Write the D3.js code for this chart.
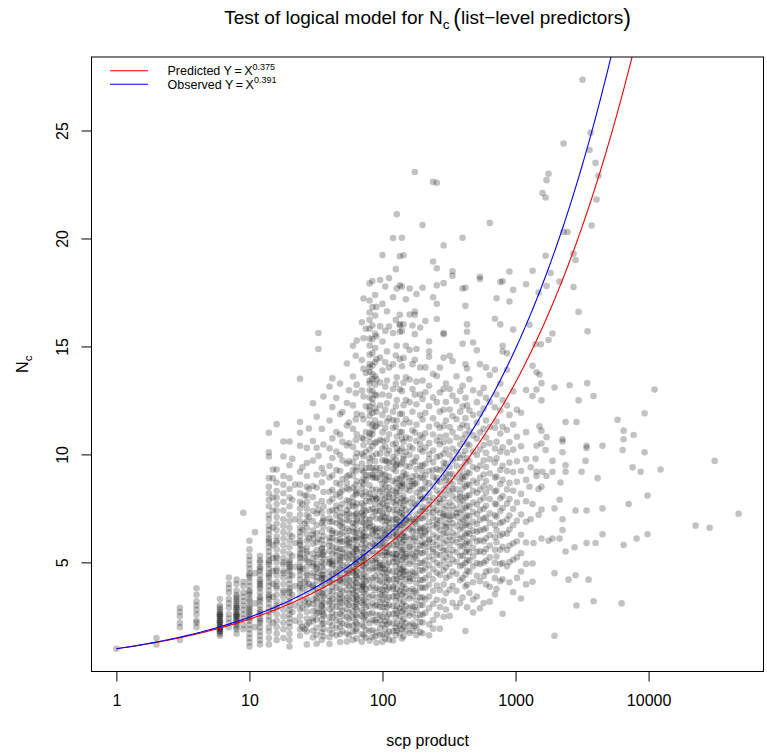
<!DOCTYPE html>
<html>
<head>
<meta charset="utf-8">
<script src="https://cdn.jsdelivr.net/npm/d3@7"></script>
<style>
  body { margin: 0; background: #fff; }
  svg text { font-family: "Liberation Sans", Arial, Helvetica, sans-serif; fill: #000; }
</style>
</head>
<body>
<svg id="chart" width="767" height="756"></svg>
<script>
// scp product values observed as columns, with the N_c values seen at each
const scpProduct = [
  1, 2, 3, 4, 6, 7, 8, 9, 10, 11, 12, 14, 15, 16, 18, 20, 21, 22, 24, 25, 26, 27, 28,
  30, 32, 33, 35, 36, 40, 42, 45, 48, 50, 54, 56, 60, 63, 64, 70, 72, 75, 80, 84, 88, 90, 96,
  100, 105, 108, 112, 120, 126, 128, 135, 140, 144, 150, 160, 168, 175, 180, 192, 200, 210,
  224, 240, 256, 270, 288, 300, 320, 336, 360, 384, 400, 420, 432, 450, 480, 512, 540, 576,
  600, 640, 700, 720, 768, 800, 864, 900, 960, 1024, 1100, 1200
];
const ncAtProduct = [
  [1.0],
  [1.5, 1.2],
  [2.9, 2.7, 2.5, 2.2, 2.0, 1.4],
  [3.8, 3.5, 3.2, 3.0, 2.8, 2.6, 2.3, 2.2, 2.0],
  [3.3, 3.0, 2.9, 2.8, 2.7, 2.6, 2.6, 2.5, 2.5, 2.4, 2.3, 2.3, 2.2, 2.2, 2.1, 2.0, 2.0, 1.9, 1.9, 1.8, 1.8, 1.7, 1.6],
  [4.3, 4.0, 3.8, 3.6, 3.3, 3.1, 2.9, 2.6, 2.4, 2.2, 2.0],
  [4.2, 4.0, 3.7, 3.5, 3.4, 3.3, 3.2, 3.1, 3.0, 2.9, 2.9, 2.8, 2.7, 2.6, 2.6, 2.5, 2.5, 2.4, 2.3, 2.3, 2.2, 2.1, 2.0, 1.9, 1.7],
  [7.3, 4.1, 3.9, 3.6, 3.4, 3.2, 3.0, 2.8, 2.6, 2.4, 2.1, 1.9],
  [6.0, 5.6, 5.3, 5.1, 4.9, 4.7, 4.5, 4.4, 4.3, 4.1, 3.9, 3.7, 3.6, 3.5, 3.3, 3.2, 3.0, 2.9, 2.8, 2.7, 2.6, 2.5, 2.4, 2.3, 2.1, 1.9, 1.7, 1.5, 1.3, 1.1],
  [6.4, 4.5, 3.1, 2.0],
  [5.3, 5.1, 5.0, 4.8, 4.7, 4.6, 4.4, 4.2, 4.1, 4.0, 3.9, 3.8, 3.6, 3.4, 3.3, 3.2, 3.0, 2.8, 2.7, 2.6, 2.4, 2.3, 2.2, 2.0, 1.8, 1.6, 1.4, 1.2],
  [11.0, 10.1, 9.9, 8.9, 8.5, 8.2, 7.9, 7.6, 7.2, 7.0, 6.7, 6.5, 6.3, 6.1, 6.0, 5.9, 5.7, 5.5, 5.3, 5.1, 5.0, 4.9, 4.7, 4.5, 4.4, 4.3, 4.1, 3.9, 3.7, 3.5, 3.4, 3.3, 3.1, 2.9, 2.7, 2.5, 2.3, 2.0, 1.8, 1.5, 1.2],
  [9.3, 8.9, 8.0, 7.4, 6.6, 5.8, 5.2, 4.6, 4.0, 3.4, 2.8, 2.2],
  [11.4, 9.3, 8.7, 8.3, 8.0, 7.7, 7.4, 7.1, 6.8, 6.5, 6.2, 6.0, 5.9, 5.6, 5.3, 5.2, 5.0, 4.7, 4.6, 4.4, 4.1, 3.9, 3.8, 3.5, 3.2, 3.0, 2.9, 2.6, 2.3, 2.0, 1.7, 1.4],
  [10.6, 9.9, 9.0, 8.6, 8.2, 7.8, 7.4, 7.0, 6.7, 6.4, 6.1, 5.8, 5.5, 5.2, 5.0, 4.9, 4.6, 4.5, 4.3, 4.0, 3.7, 3.6, 3.4, 3.1, 2.8, 2.5, 2.2, 1.9, 1.5],
  [10.6, 9.5, 8.9, 8.4, 8.0, 7.6, 7.2, 6.9, 6.6, 6.3, 6.0, 5.7, 5.4, 5.1, 5.0, 4.9, 4.8, 4.7, 4.6, 4.4, 4.2, 4.0, 3.8, 3.7, 3.6, 3.4, 3.2, 3.0, 2.8, 2.6, 2.4, 2.2, 2.0, 1.7, 1.4, 1.1],
  [9.8, 7.9, 6.2, 5.3, 4.4, 3.5, 2.7],
  [8.6, 7.0, 5.9, 4.8, 3.9, 3.0, 2.3],
  [13.5, 11.5, 11.0, 10.4, 9.2, 8.6, 8.2, 7.8, 7.5, 7.2, 6.9, 6.6, 6.4, 6.2, 6.0, 5.9, 5.8, 5.6, 5.4, 5.3, 5.2, 5.0, 4.8, 4.7, 4.6, 4.4, 4.2, 4.0, 3.9, 3.7, 3.4, 3.1, 2.8, 2.5, 2.2, 1.9, 1.6],
  [9.4, 7.7, 6.5, 5.6, 4.7, 3.8, 2.9, 2.0],
  [8.1, 6.8, 5.2, 4.1, 3.2, 1.9],
  [10.3, 9.6, 9.0, 8.5, 8.1, 7.8, 7.5, 7.2, 6.9, 6.6, 6.3, 6.0, 5.7, 5.5, 5.4, 5.1, 4.8, 4.5, 4.4, 4.2, 3.9, 3.6, 3.3, 3.0, 2.7, 2.4, 2.1, 1.8, 1.2],
  [11.2, 8.4, 7.1, 6.1, 5.0, 4.0, 3.1, 2.2],
  [12.37, 10.62, 9.71, 8.54, 8.02, 7.38, 6.91, 6.47, 6.13, 5.86, 5.41, 5.18, 4.83, 4.52, 4.37, 3.96, 3.72, 3.28, 3.07, 2.74, 2.41, 2.26, 1.83, 1.52, 6.28, 4.96, 3.88],
  [11.74, 10.31, 9.06, 8.47, 7.69, 7.26, 6.72, 6.35, 5.92, 5.57, 5.24, 4.93, 4.68, 4.31, 4.14, 3.81, 3.46, 3.17, 2.88, 2.63, 2.35, 1.97, 1.64, 1.23, 4.77, 3.34],
  [15.62, 14.88, 9.93, 7.43, 6.07, 5.36, 4.52, 3.61, 2.68],
  [11.18, 9.37, 8.71, 7.84, 7.31, 6.84, 6.42, 6.03, 5.66, 5.37, 5.03, 4.79, 4.44, 4.21, 3.93, 3.58, 3.24, 2.97, 2.72, 2.36, 2.13, 1.77, 1.41, 5.62, 4.27, 3.02],
  [12.68, 10.46, 9.12, 8.26, 7.58, 7.04, 6.66, 6.21, 5.83, 5.48, 5.17, 4.91, 4.63, 4.27, 4.02, 3.74, 3.42, 3.13, 2.84, 2.52, 2.18, 1.92, 1.58, 6.93, 5.34, 4.43, 3.51, 2.61],
  [13.14, 11.57, 10.28, 9.46, 8.93, 8.27, 7.82, 7.36, 6.87, 6.53, 6.14, 5.77, 5.52, 5.16, 4.94, 4.58, 4.33, 4.06, 3.68, 3.42, 3.09, 2.83, 2.47, 2.21, 1.86, 1.53, 1.22, 7.04, 5.98, 5.03, 4.12, 3.21],
  [13.52, 12.19, 10.74, 9.83, 9.02, 8.36, 7.94, 7.41, 6.88, 6.46, 6.12, 5.73, 5.41, 5.08, 4.84, 4.47, 4.23, 3.87, 3.64, 3.31, 2.96, 2.68, 2.43, 2.07, 1.72, 6.34, 4.91],
  [12.61, 11.04, 10.13, 9.27, 8.68, 8.14, 7.63, 7.17, 6.82, 6.37, 6.02, 5.68, 5.33, 5.04, 4.71, 4.43, 4.07, 3.82, 3.47, 3.18, 2.93, 2.57, 2.31, 1.96, 1.62, 7.42, 5.51, 4.52],
  [13.28, 11.86, 10.92, 9.97, 9.23, 8.61, 8.04, 7.53, 7.12, 6.68, 6.31, 5.94, 5.63, 5.27, 4.98, 4.72, 4.38, 4.13, 3.77, 3.52, 3.16, 2.91, 2.62, 2.27, 2.03, 1.68, 1.31, 8.24, 6.93, 6.07, 5.12, 4.18, 3.33],
  [11.96, 10.58, 9.72, 8.86, 8.33, 7.71, 7.27, 6.84, 6.38, 5.97, 5.61, 5.23, 4.87, 4.63, 4.27, 4.04, 3.66, 3.38, 3.12, 2.77, 2.52, 2.17, 1.81, 6.62, 5.42],
  [14.21, 12.38, 11.34, 10.41, 9.58, 8.97, 8.43, 7.88, 7.42, 6.98, 6.57, 6.24, 5.82, 5.46, 5.21, 4.88, 4.62, 4.27, 4.01, 3.73, 3.36, 3.12, 2.84, 2.46, 2.11, 1.72, 1.33, 8.68, 7.21, 6.02, 4.47],
  [12.97, 11.48, 10.53, 9.68, 9.04, 8.37, 7.83, 7.26, 6.93, 6.46, 6.08, 5.74, 5.37, 5.13, 4.78, 4.51, 4.17, 3.92, 3.57, 3.28, 3.03, 2.66, 2.38, 2.04, 1.63, 7.57, 5.92],
  [15.03, 13.61, 12.27, 11.18, 10.34, 9.62, 9.01, 8.47, 8.03, 7.61, 7.17, 6.82, 6.41, 6.04, 5.72, 5.38, 5.13, 4.76, 4.52, 4.18, 3.93, 3.57, 3.32, 2.98, 2.71, 2.43, 2.08, 1.79, 1.41, 9.28, 7.78, 6.63, 5.47, 4.61, 3.73],
  [14.57, 12.83, 11.62, 10.66, 9.87, 9.23, 8.58, 8.14, 7.57, 7.23, 6.77, 6.38, 6.02, 5.63, 5.28, 5.02, 4.68, 4.42, 4.08, 3.83, 3.48, 3.17, 2.92, 2.57, 2.23, 1.82, 8.32, 6.18, 4.93],
  [15.27, 13.23, 11.88, 10.93, 10.07, 9.43, 8.77, 8.22, 7.73, 7.28, 6.92, 6.48, 6.13, 5.78, 5.51, 5.17, 4.92, 4.57, 4.28, 4.03, 3.67, 3.41, 3.08, 2.82, 2.48, 2.17, 1.93, 1.48, 7.02, 5.61, 4.37, 3.28],
  [16.12, 14.37, 12.96, 11.82, 10.77, 10.03, 9.28, 8.72, 8.17, 7.73, 7.31, 6.87, 6.52, 6.08, 5.83, 5.47, 5.22, 4.87, 4.62, 4.31, 3.97, 3.72, 3.38, 3.13, 2.77, 2.52, 2.12, 1.68, 1.32, 9.58, 8.43, 7.13, 6.27, 5.02, 3.88],
  [17.22, 15.38, 13.97, 12.68, 11.63, 10.72, 9.92, 9.18, 8.62, 8.07, 7.62, 7.18, 6.83, 6.37, 6.02, 5.68, 5.43, 5.08, 4.83, 4.47, 4.23, 3.88, 3.62, 3.27, 3.03, 2.68, 2.42, 2.03, 1.62, 10.43, 8.88, 7.42, 6.18, 5.23, 3.98],
  [15.82, 13.77, 12.23, 11.04, 10.12, 9.37, 8.82, 8.27, 7.83, 7.37, 7.02, 6.57, 6.23, 5.88, 5.62, 5.27, 4.97, 4.73, 4.37, 4.12, 3.77, 3.52, 3.18, 2.92, 2.57, 2.32, 1.88, 1.52, 9.03, 6.72],
  [17.92, 17.13, 16.57, 16.23, 15.82, 15.37, 15.04, 14.62, 14.18, 13.83, 13.42, 12.97, 12.63, 12.22, 11.78, 11.43, 10.98, 10.57, 10.23, 9.82, 9.37, 9.03, 8.57, 8.18, 7.82, 7.43, 6.97, 6.63, 6.18, 5.77, 5.43, 4.98, 4.63, 4.17, 3.83, 3.38, 2.97, 2.62, 2.18, 1.82, 1.37, 14.03, 13.28, 12.04, 10.83, 9.63, 8.02, 6.83],
  [18.03, 16.82, 15.97, 15.33, 14.68, 14.12, 13.48, 12.93, 12.37, 11.92, 11.37, 10.93, 10.38, 9.92, 9.37, 8.93, 8.37, 7.93, 7.48, 7.12, 6.68, 6.32, 5.87, 5.53, 5.07, 4.72, 4.27, 3.93, 3.47, 3.12, 2.67, 2.33, 1.87, 1.53, 13.72, 12.58, 11.12, 9.07, 6.47],
  [17.38, 16.43, 15.58, 14.93, 14.27, 13.62, 12.77, 12.13, 11.28, 10.52, 9.68, 8.93, 8.07, 7.33, 6.52, 5.78, 5.12, 4.37, 3.72, 2.97, 2.32, 1.58, 13.23, 11.57, 9.23, 7.68, 6.03, 4.78],
  [16.83, 15.47, 14.42, 13.48, 12.73, 11.97, 11.33, 10.58, 10.03, 9.38, 8.92, 8.37, 7.93, 7.38, 7.03, 6.57, 6.23, 5.77, 5.42, 4.97, 4.63, 4.17, 3.83, 3.37, 3.03, 2.57, 2.23, 1.77, 1.28, 7.97, 6.42, 5.18],
  [18.08, 15.93, 14.48, 13.33, 12.27, 11.42, 10.68, 10.03, 9.37, 8.83, 8.28, 7.82, 7.38, 7.03, 6.57, 6.22, 5.78, 5.43, 4.98, 4.73, 4.38, 4.13, 3.77, 3.52, 3.17, 2.93, 2.57, 2.32, 1.97, 1.63, 9.12, 7.58, 6.03, 4.87],
  [19.23, 16.97, 15.23, 13.88, 12.77, 11.83, 11.02, 10.27, 9.73, 9.08, 8.63, 8.07, 7.73, 7.27, 6.93, 6.48, 6.13, 5.68, 5.33, 4.88, 4.53, 4.07, 3.73, 3.28, 2.93, 2.47, 2.13, 1.68, 1.32, 10.62, 8.38, 7.12, 5.87, 4.72, 3.48],
  [17.77, 15.72, 14.27, 13.13, 12.07, 11.23, 10.37, 9.72, 9.07, 8.53, 7.97, 7.53, 7.07, 6.73, 6.27, 5.93, 5.47, 5.13, 4.67, 4.33, 3.87, 3.53, 3.07, 2.73, 2.27, 1.93, 1.47, 8.82, 6.38],
  [16.63, 14.77, 13.42, 12.37, 11.52, 10.68, 10.03, 9.37, 8.82, 8.27, 7.83, 7.27, 6.93, 6.47, 6.13, 5.67, 5.33, 4.87, 4.53, 4.07, 3.73, 3.27, 2.93, 2.47, 2.13, 1.67, 9.68, 7.62, 5.47, 4.28],
  [18.17, 15.92, 14.03, 12.72, 11.68, 10.93, 10.18, 9.62, 8.97, 8.48, 8.03, 7.47, 7.03, 6.58, 6.22, 5.77, 5.42, 4.98, 4.62, 4.18, 3.82, 3.38, 3.02, 2.58, 2.22, 1.78, 1.42, 8.18, 6.82],
  [20.02, 17.28, 15.62, 14.17, 13.03, 11.98, 11.23, 10.47, 9.88, 9.32, 8.77, 8.33, 7.78, 7.42, 6.97, 6.62, 6.17, 5.82, 5.38, 5.02, 4.57, 4.22, 3.78, 3.42, 2.98, 2.62, 2.17, 1.82, 1.38, 11.58, 9.62, 7.98, 6.38, 5.22, 3.88],
  [18.58, 16.23, 14.58, 13.27, 12.23, 11.28, 10.53, 9.77, 9.22, 8.68, 8.23, 7.68, 7.23, 6.77, 6.42, 5.97, 5.62, 5.17, 4.82, 4.37, 4.03, 3.57, 3.23, 2.77, 2.43, 1.97, 1.63, 9.47, 7.02, 5.38],
  [21.12, 17.68, 15.03, 13.57, 12.52, 11.57, 10.83, 10.07, 9.53, 8.87, 8.42, 7.87, 7.43, 6.98, 6.63, 6.18, 5.83, 5.37, 5.03, 4.58, 4.23, 3.77, 3.43, 2.97, 2.63, 2.17, 1.83, 10.28, 8.12, 6.28],
  [19.18, 17.83, 16.47, 16.03, 15.98, 15.68, 14.42, 13.02, 11.87, 11.03, 10.17, 9.53, 8.87, 8.32, 7.77, 7.32, 6.88, 6.53, 6.07, 5.73, 5.28, 4.93, 4.47, 4.13, 3.67, 3.33, 2.87, 2.53, 2.07, 1.73, 8.57, 6.72, 4.68],
  [20.03, 17.77, 15.72, 14.08, 12.93, 11.88, 11.03, 10.28, 9.63, 8.98, 8.53, 7.97, 7.52, 7.08, 6.73, 6.27, 5.92, 5.47, 5.12, 4.67, 4.32, 3.87, 3.52, 3.07, 2.72, 2.27, 1.92, 1.47, 10.72, 8.68, 7.27, 5.58],
  [19.22, 16.02, 14.47, 13.32, 12.28, 11.42, 10.57, 9.92, 9.18, 8.63, 8.07, 7.62, 7.17, 6.82, 6.37, 6.02, 5.57, 5.22, 4.77, 4.42, 3.97, 3.62, 3.17, 2.82, 2.37, 2.02, 1.57, 9.78, 7.83, 6.18, 4.58],
  [17.18, 15.03, 13.57, 12.52, 11.63, 10.78, 10.12, 9.47, 8.93, 8.37, 7.88, 7.43, 6.98, 6.62, 6.18, 5.83, 5.38, 5.03, 4.58, 4.23, 3.78, 3.43, 2.98, 2.63, 2.18, 1.83, 9.07, 6.92, 5.28],
  [17.68, 16.48, 14.83, 13.47, 12.42, 11.48, 10.73, 9.97, 9.43, 8.77, 8.32, 7.77, 7.33, 6.88, 6.53, 6.07, 5.72, 5.27, 4.93, 4.47, 4.13, 3.67, 3.33, 2.87, 2.53, 2.07, 1.73, 10.37, 8.52, 7.08, 5.58, 4.28],
  [15.97, 14.18, 13.03, 11.97, 11.12, 10.27, 9.62, 8.97, 8.53, 7.97, 7.53, 6.97, 6.62, 6.17, 5.82, 5.37, 5.03, 4.57, 4.23, 3.77, 3.43, 2.97, 2.63, 2.17, 1.83, 8.77, 6.43],
  [23.08, 16.62, 16.47, 15.57, 14.38, 12.77, 11.02, 9.68, 8.63, 7.72, 6.88, 6.13, 5.28, 4.52, 3.68, 2.93, 2.07],
  [17.43, 14.88, 13.37, 12.32, 11.38, 10.62, 9.87, 9.32, 8.68, 8.23, 7.68, 7.23, 6.78, 6.43, 5.98, 5.63, 5.18, 4.83, 4.38, 4.03, 3.58, 3.23, 2.78, 2.43, 1.98, 1.63, 9.02, 7.02, 5.48],
  [15.88, 14.03, 12.77, 11.82, 10.88, 10.23, 9.48, 8.93, 8.37, 7.92, 7.37, 7.03, 6.57, 6.23, 5.77, 5.43, 4.97, 4.63, 4.17, 3.83, 3.37, 3.03, 2.57, 2.23, 1.77, 10.48, 8.08, 6.48],
  [20.62, 17.72, 13.42, 12.57, 11.62, 10.77, 10.13, 9.48, 8.92, 8.38, 7.93, 7.38, 7.03, 6.58, 6.22, 5.78, 5.42, 4.98, 4.62, 4.18, 3.82, 3.38, 3.02, 2.58, 2.22, 1.72, 9.23, 7.58, 5.93],
  [16.18, 14.03, 12.88, 11.93, 10.98, 10.32, 9.57, 9.03, 8.47, 8.02, 7.48, 7.13, 6.67, 6.33, 5.87, 5.52, 5.08, 4.73, 4.27, 3.83, 3.28, 2.67, 8.72, 6.43],
  [15.23, 14.78, 14.52, 13.18, 12.23, 11.28, 10.52, 9.78, 9.23, 8.67, 8.22, 7.67, 7.32, 6.87, 6.52, 6.07, 5.72, 5.27, 4.88, 4.43, 3.97, 3.42, 2.88, 2.13, 1.62, 10.02, 7.88, 6.02],
  [22.62, 18.93, 17.28, 13.72, 12.63, 11.67, 10.92, 10.18, 9.63, 8.97, 8.52, 7.98, 7.53, 7.07, 6.72, 6.28, 5.93, 5.48, 5.13, 4.68, 4.22, 3.68, 3.07, 2.33, 1.93, 9.28, 7.32, 5.62],
  [22.58, 18.62, 17.83, 16.98, 16.27, 13.63, 12.42, 11.38, 10.63, 9.88, 9.32, 8.77, 8.33, 7.78, 7.42, 6.97, 6.62, 6.17, 5.82, 5.37, 4.97, 4.52, 3.93, 3.27, 2.57, 8.92, 6.78],
  [14.02, 12.87, 11.98, 11.23, 10.47, 9.93, 9.27, 8.72, 8.18, 7.73, 7.28, 6.92, 6.48, 6.12, 5.68, 5.33, 4.87, 4.42, 3.72, 2.93, 1.93, 10.82, 7.93],
  [19.68, 17.93, 15.62, 15.57, 14.48, 13.03, 12.07, 11.32, 10.58, 10.03, 9.38, 8.93, 8.37, 7.92, 7.47, 7.12, 6.68, 6.32, 5.88, 5.53, 5.07, 4.62, 3.98, 3.22, 2.48, 9.62, 7.22],
  [13.28, 12.43, 11.57, 10.87, 10.23, 9.58, 9.12, 8.57, 8.13, 7.62, 7.18, 6.83, 6.37, 6.02, 5.57, 5.23, 4.77, 4.28, 3.57, 2.82, 8.83, 6.62],
  [14.57, 13.03, 12.08, 11.27, 10.62, 9.98, 9.42, 8.78, 8.33, 7.78, 7.42, 6.97, 6.63, 6.18, 5.82, 5.37, 4.93, 4.38, 3.73, 2.52, 9.08, 7.13],
  [18.48, 18.27, 14.32, 12.72, 11.78, 11.03, 10.27, 9.72, 9.08, 8.63, 8.07, 7.62, 7.17, 6.82, 6.38, 6.03, 5.57, 5.13, 4.58, 3.92, 3.13, 8.38],
  [13.62, 12.48, 11.63, 10.78, 10.12, 9.47, 8.93, 8.38, 7.93, 7.47, 7.12, 6.68, 6.27, 5.93, 5.47, 5.02, 4.47, 3.68, 2.93, 9.82, 7.28],
  [12.93, 11.98, 11.22, 10.47, 9.83, 9.18, 8.72, 8.17, 7.72, 7.28, 6.87, 6.52, 6.08, 5.73, 5.28, 4.82, 4.17, 3.12, 8.02],
  [20.03, 17.68, 15.12, 13.18, 12.23, 11.37, 10.72, 9.97, 9.43, 8.88, 8.42, 7.87, 7.43, 6.98, 6.62, 6.17, 5.77, 5.32, 4.88, 4.27, 3.37, 8.98],
  [17.72, 16.88, 14.17, 12.62, 11.68, 10.93, 10.17, 9.63, 8.97, 8.52, 7.98, 7.52, 7.08, 6.73, 6.28, 5.87, 5.48, 4.97, 4.43, 3.88, 1.82],
  [16.02, 15.68, 13.98, 12.27, 11.33, 10.48, 9.82, 9.17, 8.63, 8.08, 7.63, 7.18, 6.82, 6.37, 5.97, 5.58, 5.12, 4.62, 3.97, 2.92],
  [13.48, 12.03, 11.08, 10.42, 9.68, 9.13, 8.57, 8.12, 7.58, 7.13, 6.68, 6.33, 5.88, 5.47, 5.07, 4.57, 3.58],
  [15.18, 12.97, 11.82, 10.88, 10.13, 9.42, 8.78, 8.32, 7.77, 7.33, 6.88, 6.47, 6.13, 5.68, 5.27, 4.82, 4.08, 3.28, 2.68],
  [14.82, 12.42, 11.47, 10.73, 9.97, 9.32, 8.68, 8.22, 7.68, 7.23, 6.78, 6.42, 5.97, 5.48, 4.97, 4.38, 3.42],
  [18.12, 18.23, 14.18, 12.83, 11.88, 11.02, 10.23, 9.48, 8.92, 8.37, 7.88, 7.42, 6.97, 6.48, 6.02, 5.52, 4.92, 4.13, 2.87],
  [13.08, 12.12, 11.18, 10.43, 9.72, 9.07, 8.52, 7.98, 7.48, 7.03, 6.52, 5.98, 5.47, 4.98, 4.37, 3.12],
  [14.03, 12.62, 11.57, 10.78, 10.07, 9.42, 8.77, 8.23, 7.62, 7.07, 6.58, 6.12, 5.62, 5.08, 4.57, 3.98],
  [20.72, 13.68, 12.43, 11.27, 10.52, 9.78, 9.13, 8.47, 7.93, 7.27, 6.83, 6.27, 5.78, 5.23, 4.62, 3.87, 3.18],
  [16.28, 13.92, 12.18, 11.23, 10.27, 9.62, 8.93, 8.28, 7.72, 7.18, 6.72, 6.17, 5.58, 4.98, 4.27, 3.52],
  [17.23, 12.77, 11.52, 10.58, 9.82, 8.98, 8.33, 7.68, 7.12, 6.48, 5.93, 5.27, 4.62, 3.78],
  [17.98, 16.02, 13.28, 12.03, 10.97, 10.12, 9.28, 8.62, 7.97, 7.38, 6.82, 6.23, 5.58, 4.92, 4.13],
  [18.02, 15.03, 14.77, 12.52, 11.28, 10.33, 9.47, 8.82, 8.07, 7.52, 6.88, 6.32, 5.72, 4.97, 4.22, 2.62],
  [14.68, 13.92, 12.27, 11.13, 10.08, 9.23, 8.38, 7.72, 6.98, 6.33, 5.57, 4.82],
  [18.47, 17.08, 11.83, 10.57, 9.62, 8.68, 7.93, 7.17, 6.52, 5.78, 5.02, 4.08],
  [17.62, 15.78, 12.92, 11.38, 10.22, 9.18, 8.32, 7.48, 6.72, 5.88, 5.12, 3.62],
  [12.07, 10.82, 9.68, 8.73, 7.77, 6.93, 5.98, 5.23, 4.28],
  [11.93, 10.38, 9.23, 8.17, 7.22, 6.28, 5.42, 4.58, 3.33],
  [17.88, 12.98, 11.03, 9.78, 8.82, 7.83, 6.88, 5.92, 4.93, 3.98]
];

// sparse observations at large scp products
const tailProduct = [
  1274, 3190, 2296, 3663, 3600, 3995, 4208, 1771, 1711, 1594, 1682, 4065, 3727, 2296, 2460,
  2729, 2825, 1682, 1342, 1833, 1711, 1490, 2142, 2729, 2977, 3478, 1897, 1771, 1550, 1413,
  1342, 1438, 1514, 1567, 1438, 1964, 2547, 3459, 11090,
  1342, 1567, 2977, 3858, 5845, 9333, 2377, 2875, 1514, 1567, 1711, 1438, 1567, 2255, 2255,
  3419, 3419, 4508, 6489, 6489, 7716, 6377, 9333, 1682, 2255, 1413, 1897, 3360, 2377, 1300,
  1438, 1594, 1438, 1711, 1897, 2377, 3136, 4136, 7586, 8710, 12300, 2178, 31350, 1274, 1567,
  1490, 9817, 7079, 1342, 2142, 1567, 1964, 2825, 3419, 4508, 47500, 1300, 1490, 2255, 2255,
  22550, 28770, 1366, 1567, 1771, 1897, 2142, 4508, 3995, 3419, 2777, 2377, 6489, 8128, 9817,
  1342, 1964, 2825, 2503, 3539, 1342, 2875, 3858, 6266, 1964
];
const tailNc = [
  16.0, 27.35, 24.4, 24.9, 24.1, 23.5, 22.9, 23.0, 22.7, 22.1, 21.9, 21.8, 20.6, 20.3, 20.3,
  19.3, 19.0, 19.2, 18.5, 18.4, 17.8, 17.5, 18.0, 17.75, 16.6, 15.7, 15.6, 15.3, 15.1, 15.1,
  14.1, 13.8, 13.7, 13.3, 13.0, 13.1, 13.2, 13.3, 13.0,
  12.7, 12.5, 12.5, 12.7, 11.6, 11.9, 11.5, 11.5, 11.3, 11.1, 10.8, 10.4, 10.5, 10.7, 10.6,
  10.4, 10.3, 10.4, 11.1, 10.7, 10.9, 10.2, 10.1, 10.2, 10.1, 9.8, 9.7, 9.7, 9.5, 9.4,
  9.2, 9.2, 9.0, 9.0, 9.2, 9.2, 9.2, 8.9, 9.4, 9.2, 9.3, 8.7, 9.7, 8.5, 8.5,
  8.4, 8.1, 7.7, 7.7, 7.9, 7.45, 7.5, 7.4, 7.4, 7.5, 7.25, 7.0, 7.2, 7.0, 6.5,
  6.7, 6.6, 5.9, 6.1, 6.0, 6.1, 6.1, 6.3, 5.9, 5.9, 5.7, 5.5, 5.8, 6.1, 6.3,
  4.95, 4.5, 4.4, 4.2, 4.2, 4.1, 3.0, 3.2, 3.1, 1.6
];

const xTicks = [1, 10, 100, 1000, 10000];
const yTicks = [5, 10, 15, 20, 25];

// power-law models Y = X^b
const modelNames = ["Predicted", "Observed"];
const modelExponents = [0.375, 0.391];
const modelColors = ["#ff0000", "#0000ff"];

// ---- layout
const width = 767, height = 756;
const plot = { left: 91.5, right: 763.5, top: 57, bottom: 671.5 };

const points = [];
scpProduct.forEach((p, i) => ncAtProduct[i].forEach(v => points.push({ x: p, y: v })));
tailProduct.forEach((p, i) => points.push({ x: p, y: tailNc[i] }));

// axis ranges padded by 4% on each side
const lx = d3.extent(points, d => Math.log10(d.x));
const padX = (lx[1] - lx[0]) * 0.04;
const ly = d3.extent(points, d => d.y);
const padY = (ly[1] - ly[0]) * 0.04;

const x = d3.scaleLog()
  .domain([10 ** (lx[0] - padX), 10 ** (lx[1] + padX)])
  .range([plot.left, plot.right]);
const y = d3.scaleLinear()
  .domain([ly[0] - padY, ly[1] + padY])
  .range([plot.bottom, plot.top]);

const svg = d3.select("#chart");
svg.append("rect").attr("width", width).attr("height", height).attr("fill", "#fff");

svg.append("defs").append("clipPath").attr("id", "plot-clip")
  .append("rect")
  .attr("x", plot.left).attr("y", plot.top)
  .attr("width", plot.right - plot.left).attr("height", plot.bottom - plot.top);

// scatter of observations
svg.append("g")
  .attr("clip-path", "url(#plot-clip)")
  .selectAll("circle")
  .data(points)
  .join("circle")
  .attr("cx", d => x(d.x))
  .attr("cy", d => y(d.y))
  .attr("r", 3.3)
  .attr("fill", "#000")
  .attr("fill-opacity", 0.24);

// model curves
const xMaxLog = Math.log10(x.domain()[1]);
const curveX = d3.range(0, 401).map(i => 10 ** (i / 400 * xMaxLog));
const curves = svg.append("g").attr("clip-path", "url(#plot-clip)");
modelExponents.forEach((b, i) => {
  curves.append("path")
    .datum(curveX)
    .attr("fill", "none")
    .attr("stroke", modelColors[i])
    .attr("stroke-width", 1.1)
    .attr("d", d3.line().x(d => x(d)).y(d => y(d ** b)));
});

// axes
const xAxis = d3.axisBottom(x).tickValues(xTicks).tickFormat(d3.format("d"))
  .tickSize(10).tickPadding(13.5);
svg.append("g")
  .attr("transform", `translate(0,${plot.bottom})`)
  .call(xAxis)
  .call(g => g.select(".domain").remove())
  .call(g => g.selectAll("line").attr("stroke", "#000"))
  .call(g => g.selectAll("text").attr("font-size", 16)
    .attr("font-family", "Liberation Sans, Arial, sans-serif"));

const yAxis = d3.axisLeft(y).tickValues(yTicks).tickSize(10);
svg.append("g")
  .attr("transform", `translate(${plot.left},0)`)
  .call(yAxis)
  .call(g => g.select(".domain").remove())
  .call(g => g.selectAll("line").attr("stroke", "#000"))
  .call(g => g.selectAll("text")
    .attr("x", 0).attr("y", -23.5).attr("dy", 0)
    .attr("text-anchor", "middle")
    .attr("transform", "rotate(-90)")
    .attr("font-size", 16)
    .attr("font-family", "Liberation Sans, Arial, sans-serif"));

// frame
svg.append("rect")
  .attr("x", plot.left).attr("y", plot.top)
  .attr("width", plot.right - plot.left).attr("height", plot.bottom - plot.top)
  .attr("fill", "none").attr("stroke", "#000").attr("stroke-width", 1);

// axis titles
svg.append("text")
  .attr("x", (plot.left + plot.right) / 2).attr("y", 746)
  .attr("text-anchor", "middle").attr("font-size", 16)
  .text("scp product");

const yTitle = svg.append("text")
  .attr("transform", `translate(28,${(plot.top + plot.bottom) / 2}) rotate(-90)`)
  .attr("text-anchor", "middle").attr("font-size", 16);
yTitle.append("tspan").text("N");
yTitle.append("tspan").attr("font-size", 11.5).attr("dy", 4).text("c");

// main title
const title = svg.append("text")
  .attr("x", (plot.left + plot.right) / 2).attr("y", 24)
  .attr("text-anchor", "middle").attr("font-size", 19);
title.append("tspan").text("Test of logical model for N");
title.append("tspan").attr("font-size", 13.5).attr("dy", 4.5).text("c");
title.append("tspan").attr("dy", -4.5).text("\u2009");
title.append("tspan").attr("font-size", 23).attr("dy", 1.5).text("(");
title.append("tspan").attr("dy", -1.5).text("list\u2212level predictors");
title.append("tspan").attr("font-size", 23).attr("dy", 1.5).text(")");

// legend
const legend = svg.append("g");
modelNames.forEach((name, i) => {
  const ly0 = 70.7 + i * 13.5;
  legend.append("line")
    .attr("x1", 110).attr("x2", 148).attr("y1", ly0).attr("y2", ly0)
    .attr("stroke", modelColors[i]).attr("stroke-width", 1.1);
  const t = legend.append("text")
    .attr("x", 167.5).attr("y", ly0 + 4.6)
    .attr("font-size", 12.5);
  t.append("tspan").text(`${name} Y\u2009=\u2009X`);
  t.append("tspan").attr("font-size", 9).attr("dy", -5.5).text(String(modelExponents[i]));
});
</script>
</body>
</html>
